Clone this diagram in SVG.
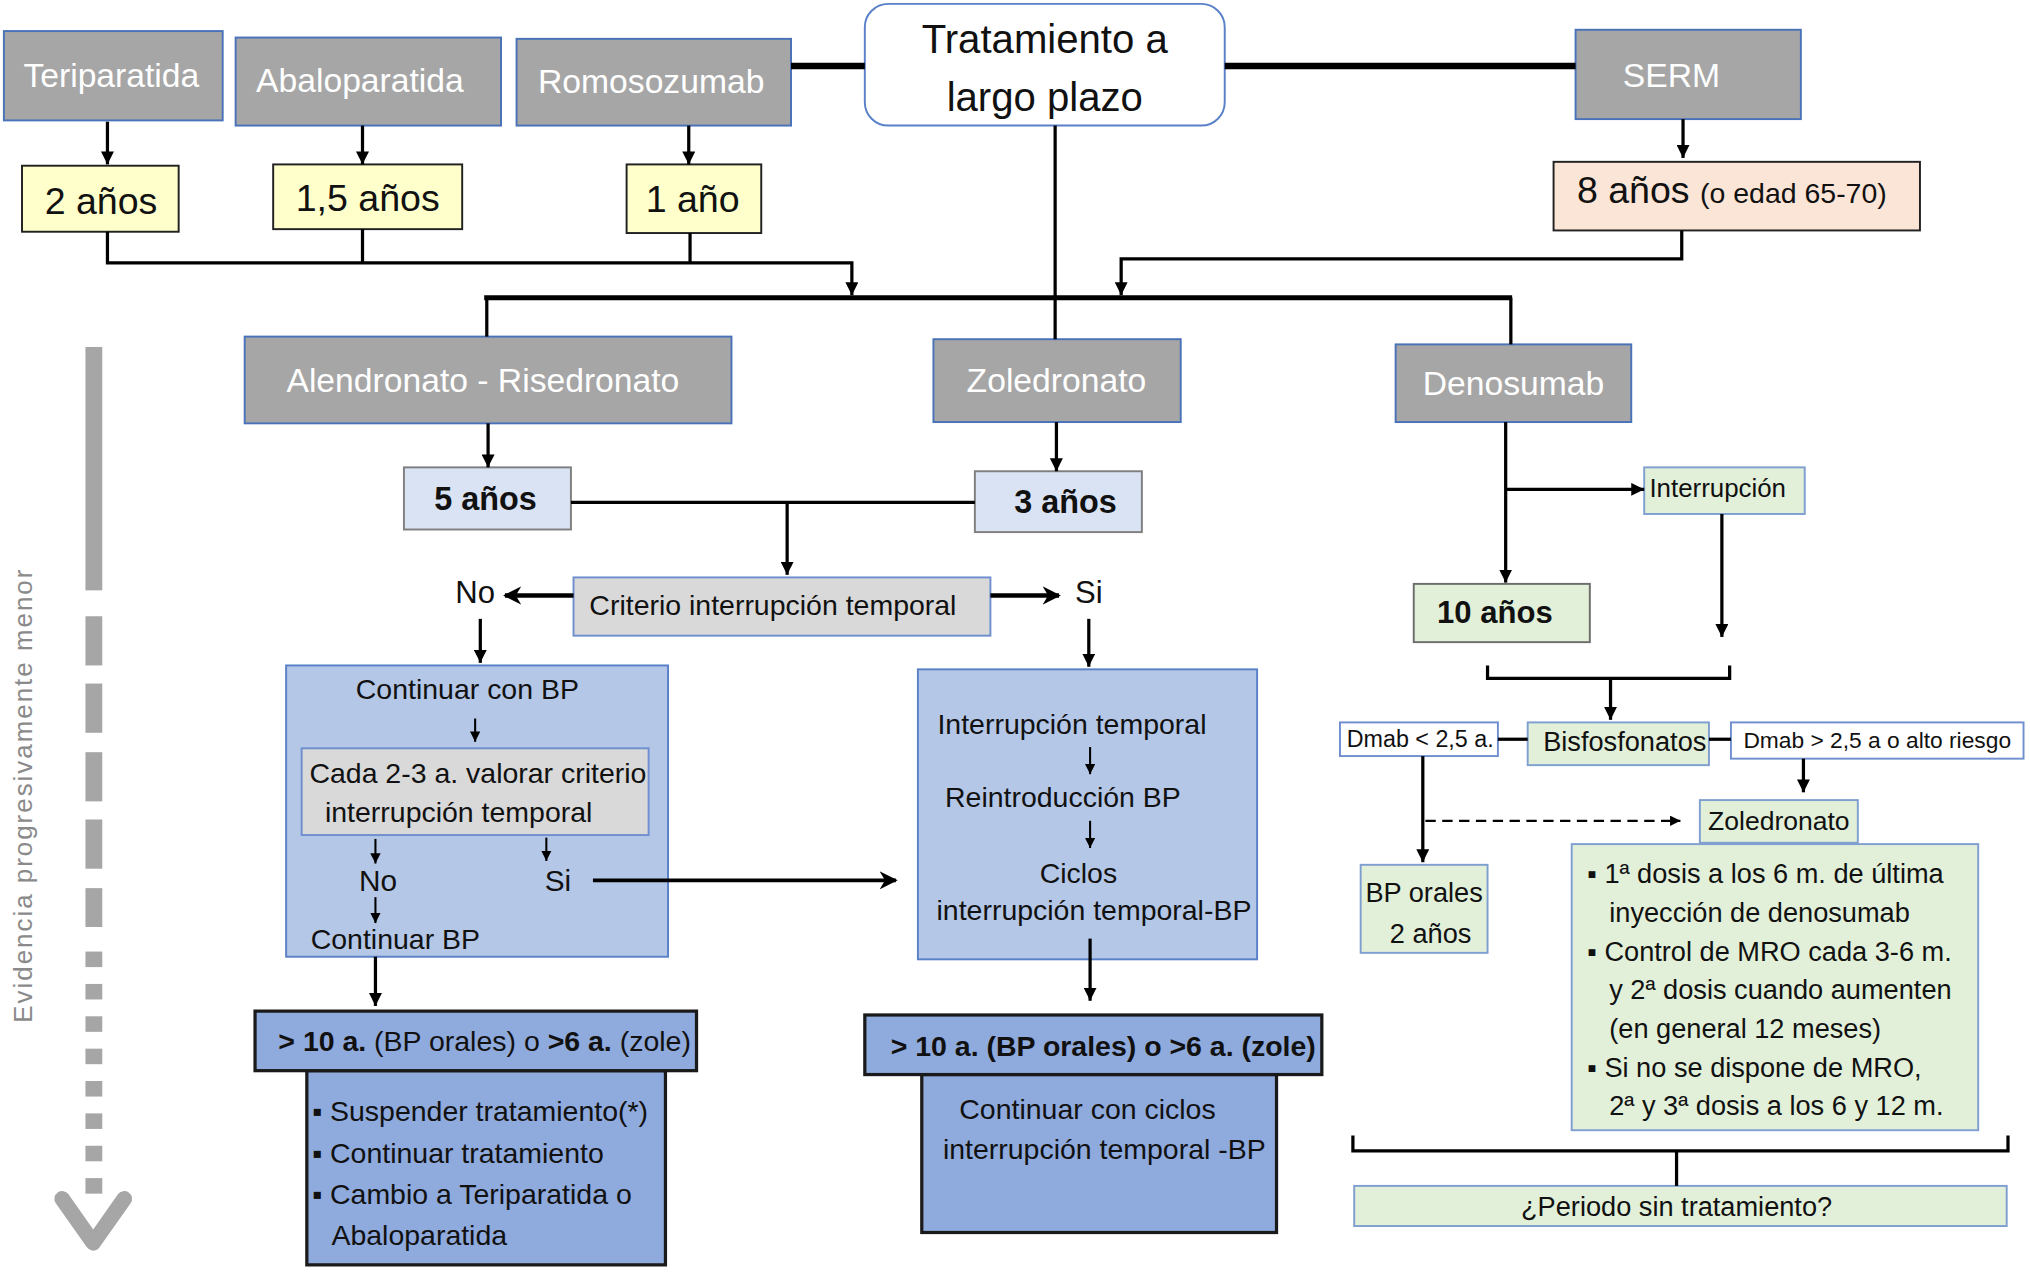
<svg xmlns="http://www.w3.org/2000/svg" width="2030" height="1273" viewBox="0 0 2030 1273">
<defs>
<style>
text{font-family:"Liberation Sans",Arial,sans-serif;fill:#111}
.g{fill:#a6a6a6;stroke:#4a72b8;stroke-width:1.5}
.gt{fill:#fff;font-size:26px;text-anchor:middle}
.y{fill:#ffffcc;stroke:#222;stroke-width:1.5}
.pe{fill:#fbe5d6;stroke:#222;stroke-width:1.5}
.lb{fill:#dae3f3;stroke:#7f7f7f;stroke-width:1.5}
.gr{fill:#d9d9d9;stroke:#6f8fcf;stroke-width:1.5}
.bl{fill:#b4c7e7;stroke:#5a80c8;stroke-width:1.5}
.db{fill:#8faadc;stroke:#1a1a1a;stroke-width:2.5}
.gn{fill:#e2f0d9;stroke:#7f9fd0;stroke-width:1.5}
.gn2{fill:#e2f0d9;stroke:#6d6d6d;stroke-width:1.5}
.wh{fill:#fff;stroke:#6f8fcf;stroke-width:1.5}
.ln{stroke:#000;stroke-width:2.5;fill:none}
.lt{stroke:#000;stroke-width:1.6;fill:none}
.mid{text-anchor:middle}
.ev{fill:#a6a6a6}
</style>
<marker id="ah" viewBox="0 0 10 10" refX="10" refY="5" markerWidth="10" markerHeight="10" markerUnits="userSpaceOnUse" orient="auto"><path d="M0,0 L10,5 L0,10 z" fill="#000"/></marker>
<marker id="ahs" viewBox="0 0 10 10" refX="10" refY="5" markerWidth="8" markerHeight="8" markerUnits="userSpaceOnUse" orient="auto"><path d="M0,0 L10,5 L0,10 z" fill="#000"/></marker>
<marker id="ahb" viewBox="0 0 10 10" refX="9" refY="5" markerWidth="14" markerHeight="14" markerUnits="userSpaceOnUse" orient="auto"><path d="M0,0 L10,5 L0,10 L3,5 z" fill="#000"/></marker>
</defs>
<rect width="2030" height="1273" fill="#fff"/>
<g transform="scale(1.294643)">

<g id="n-teriparatida"><rect class="g" x="3" y="24" width="169" height="69"/><text class="gt" x="86" y="67">Teriparatida</text></g>
<g id="n-abaloparatida"><rect class="g" x="182" y="29" width="205" height="68"/><text class="gt" x="278" y="71">Abaloparatida</text></g>
<g id="n-romosozumab"><rect class="g" x="399" y="30" width="212" height="67"/><text class="gt" x="503" y="72">Romosozumab</text></g>
<g id="n-tratamiento"><rect x="668" y="3" width="278" height="94" rx="18" fill="#fff" stroke="#5a80c8" stroke-width="1.5"/><text class="mid" x="807" y="41" font-size="31">Tratamiento a</text><text class="mid" x="807" y="86" font-size="31">largo plazo</text></g>
<g id="n-serm"><rect class="g" x="1217" y="23" width="174" height="69"/><text class="gt" x="1291" y="67">SERM</text></g>

<g id="n-2anos"><rect class="y" x="17" y="128" width="121" height="51"/><text class="mid" x="78" y="165" font-size="29">2 años</text></g>
<g id="n-15anos"><rect class="y" x="211" y="127" width="146" height="50"/><text class="mid" x="284" y="163" font-size="29">1,5 años</text></g>
<g id="n-1ano"><rect class="y" x="484" y="127" width="104" height="53"/><text class="mid" x="535" y="164" font-size="29">1 año</text></g>
<g id="n-8anos"><rect class="pe" x="1200" y="125" width="283" height="53"/><text x="1218" y="157" font-size="29">8 años <tspan font-size="22">(o edad 65-70)</tspan></text></g>

<g id="n-alendronato"><rect class="g" x="189" y="260" width="376" height="67"/><text class="gt" x="373" y="303">Alendronato - Risedronato</text></g>
<g id="n-zoledronato"><rect class="g" x="721" y="262" width="191" height="64"/><text class="gt" x="816" y="303">Zoledronato</text></g>
<g id="n-denosumab"><rect class="g" x="1078" y="266" width="182" height="60"/><text class="gt" x="1169" y="305">Denosumab</text></g>

<g id="n-5anos"><rect class="lb" x="312" y="361" width="129" height="48"/><text class="mid" x="375" y="394" font-size="25" font-weight="bold">5 años</text></g>
<g id="n-3anos"><rect class="lb" x="753" y="364" width="129" height="47"/><text class="mid" x="823" y="396" font-size="25" font-weight="bold">3 años</text></g>

<g id="n-criterio"><rect class="gr" x="443" y="446" width="322" height="45"/><text class="mid" x="597" y="475" font-size="22">Criterio interrupción temporal</text></g>
<g id="n-no"><text class="mid" x="367" y="466" font-size="24">No</text></g>
<g id="n-si"><text class="mid" x="841" y="466" font-size="24">Si</text></g>

<g id="n-continuar">
<rect class="bl" x="221" y="514" width="295" height="225"/>
<text class="mid" x="361" y="540" font-size="22">Continuar con BP</text>
<rect class="gr" x="233" y="578" width="268" height="67"/>
<text x="239" y="605" font-size="22">Cada 2-3 a. valorar criterio</text>
<text x="251" y="635" font-size="22">interrupción temporal</text>
<text class="mid" x="292" y="688" font-size="23">No</text>
<text class="mid" x="431" y="688" font-size="23">Si</text>
<text x="240" y="733" font-size="22">Continuar BP</text>
</g>

<g id="n-interrupcion-temporal">
<rect class="bl" x="709" y="517" width="262" height="224"/>
<text class="mid" x="828" y="567" font-size="22">Interrupción temporal</text>
<text class="mid" x="821" y="623" font-size="22">Reintroducción BP</text>
<text class="mid" x="833" y="682" font-size="22">Ciclos</text>
<text class="mid" x="845" y="711" font-size="22">interrupción temporal-BP</text>
</g>

<g id="n-mas10-izq">
<rect class="db" x="237" y="827" width="277" height="150"/>
<rect class="db" x="197" y="781" width="341" height="46"/>
<text x="215" y="812" font-size="22"><tspan font-weight="bold">&gt; 10 a.</tspan> (BP orales) o <tspan font-weight="bold">&gt;6 a.</tspan> (zole)</text>
<text x="241" y="866" font-size="22">▪ Suspender tratamiento(*)</text>
<text x="241" y="898" font-size="22">▪ Continuar tratamiento</text>
<text x="241" y="930" font-size="22">▪ Cambio a Teriparatida o</text>
<text x="256" y="962" font-size="22">Abaloparatida</text>
</g>

<g id="n-mas10-der">
<rect class="db" x="712" y="830" width="274" height="122"/>
<rect class="db" x="668" y="784" width="353" height="46"/>
<text x="688" y="816" font-size="22" font-weight="bold">&gt; 10 a. (BP orales) o &gt;6 a. (zole)</text>
<text class="mid" x="840" y="864" font-size="22">Continuar con ciclos</text>
<text class="mid" x="853" y="895" font-size="22">interrupción temporal -BP</text>
</g>

<g id="n-interrupcion"><rect class="gn" x="1270" y="361" width="124" height="36"/><text x="1274" y="384" font-size="20">Interrupción</text></g>
<g id="n-10anos"><rect class="gn2" x="1092" y="451" width="136" height="45"/><text x="1110" y="481" font-size="24" font-weight="bold">10 años</text></g>
<g id="n-bisfosfonatos"><rect class="gn" x="1180" y="558" width="140" height="33"/><text class="mid" x="1255" y="580" font-size="21">Bisfosfonatos</text></g>
<g id="n-dmab-menor"><rect class="wh" x="1035" y="558" width="122" height="26"/><text class="mid" x="1097" y="577" font-size="18">Dmab &lt; 2,5 a.</text></g>
<g id="n-dmab-mayor"><rect class="wh" x="1337" y="558" width="226" height="28"/><text class="mid" x="1450" y="578" font-size="17.6">Dmab &gt; 2,5 a o alto riesgo</text></g>
<g id="n-zoledronato2"><rect class="gn" x="1313" y="618" width="122" height="33"/><text class="mid" x="1374" y="641" font-size="20.5">Zoledronato</text></g>
<g id="n-bporales"><rect class="gn" x="1051" y="668" width="98" height="68"/><text class="mid" x="1100" y="697" font-size="21">BP orales</text><text class="mid" x="1105" y="728" font-size="21">2 años</text></g>
<g id="n-pauta">
<rect class="gn" x="1214" y="652" width="314" height="221"/>
<text x="1226" y="682" font-size="21">▪ 1ª dosis a los 6 m. de última</text>
<text x="1243" y="712" font-size="21">inyección de denosumab</text>
<text x="1226" y="742" font-size="21">▪ Control de MRO cada 3-6 m.</text>
<text x="1243" y="772" font-size="21">y 2ª dosis cuando aumenten</text>
<text x="1243" y="802" font-size="21">(en general 12 meses)</text>
<text x="1226" y="832" font-size="21">▪ Si no se dispone de MRO,</text>
<text x="1243" y="861" font-size="21">2ª y 3ª dosis a los 6 y 12 m.</text>
</g>
<g id="n-periodo"><rect class="gn" x="1046" y="916" width="504" height="31"/><text class="mid" x="1295" y="939" font-size="21">¿Periodo sin tratamiento?</text></g>

<g id="evidencia">
<rect class="ev" x="66" y="268" width="13" height="188"/>
<rect class="ev" x="66" y="476" width="13" height="38"/>
<rect class="ev" x="66" y="528" width="13" height="38"/>
<rect class="ev" x="66" y="581" width="13" height="38"/>
<rect class="ev" x="66" y="633" width="13" height="38"/>
<rect class="ev" x="66" y="686" width="13" height="30"/>
<rect class="ev" x="66" y="735" width="13" height="12"/>
<rect class="ev" x="66" y="760" width="13" height="12"/>
<rect class="ev" x="66" y="785" width="13" height="12"/>
<rect class="ev" x="66" y="810" width="13" height="12"/>
<rect class="ev" x="66" y="835" width="13" height="12"/>
<rect class="ev" x="66" y="860" width="13" height="12"/>
<rect class="ev" x="66" y="885" width="13" height="12"/>
<rect class="ev" x="66" y="910" width="13" height="12"/>
<polyline points="48,926 72,960 96,926" fill="none" stroke="#a6a6a6" stroke-width="12" stroke-linecap="round" stroke-linejoin="round"/>
<text class="mid" x="25" y="615" font-size="20" style="fill:#8a8a8a" transform="rotate(-90 25 615)" textLength="350" lengthAdjust="spacing">Evidencia progresivamente menor</text>
</g>

<g id="connectors">
<line x1="611" y1="51" x2="668" y2="51" stroke="#000" stroke-width="5"/>
<line x1="946" y1="51" x2="1217" y2="51" stroke="#000" stroke-width="5"/>
<path class="ln" d="M83,94 V127" marker-end="url(#ah)"/>
<path class="ln" d="M280,97 V127" marker-end="url(#ah)"/>
<path class="ln" d="M532,97 V127" marker-end="url(#ah)"/>
<path class="ln" d="M1300,92 V122" marker-end="url(#ah)"/>
<path class="ln" d="M83,179 V203 H658 V228" marker-end="url(#ah)"/>
<path class="ln" d="M280,177 V203"/>
<path class="ln" d="M533,180 V203"/>
<path class="ln" d="M1299,178 V200 H866 V228" marker-end="url(#ah)"/>
<path class="ln" d="M815,97 V262"/>
<line x1="374" y1="230" x2="1168" y2="230" stroke="#000" stroke-width="4"/>
<path class="ln" d="M376,230 V260"/>
<path class="ln" d="M1167,230 V266"/>
<path class="ln" d="M377,327 V361" marker-end="url(#ah)"/>
<path class="ln" d="M816,326 V364" marker-end="url(#ah)"/>
<path class="ln" d="M441,388 H753"/>
<path class="ln" d="M608,388 V444" marker-end="url(#ah)"/>
<path d="M443,460 H390" stroke="#000" stroke-width="3.5" marker-end="url(#ahb)"/>
<path d="M765,460 H818" stroke="#000" stroke-width="3.5" marker-end="url(#ahb)"/>
<path class="ln" d="M371,478 V512" marker-end="url(#ah)"/>
<path class="ln" d="M841,478 V515" marker-end="url(#ah)"/>
<path class="lt" d="M367,555 V573" marker-end="url(#ahs)"/>
<path class="lt" d="M290,648 V667" marker-end="url(#ahs)"/>
<path class="lt" d="M422,647 V665" marker-end="url(#ahs)"/>
<path class="lt" d="M290,693 V713" marker-end="url(#ahs)"/>
<path d="M458,680 H692" stroke="#000" stroke-width="3" marker-end="url(#ahb)"/>
<path class="lt" d="M842,577 V598" marker-end="url(#ahs)"/>
<path class="lt" d="M842,634 V655" marker-end="url(#ahs)"/>
<path class="ln" d="M290,739 V777" marker-end="url(#ah)"/>
<path class="ln" d="M842,725 V773" marker-end="url(#ah)"/>
<path class="ln" d="M1163,326 V450" marker-end="url(#ah)"/>
<path class="ln" d="M1163,378 H1270" marker-end="url(#ah)"/>
<path class="ln" d="M1330,397 V492" marker-end="url(#ah)"/>
<path class="ln" d="M1149,514 V524 H1336 V514"/>
<path class="ln" d="M1244,524 V556" marker-end="url(#ah)"/>
<path class="ln" d="M1157,571 H1180"/>
<path class="ln" d="M1320,571 H1337"/>
<path class="ln" d="M1393,586 V612" marker-end="url(#ah)"/>
<path class="ln" d="M1099,584 V666" marker-end="url(#ah)"/>
<path d="M1101,634 H1298" stroke="#000" stroke-width="1.8" stroke-dasharray="8,5" fill="none" marker-end="url(#ahs)"/>
<path class="ln" d="M1045,877 V889 H1551 V877"/>
<path class="ln" d="M1295,889 V916"/>
</g>

</g>
</svg>
